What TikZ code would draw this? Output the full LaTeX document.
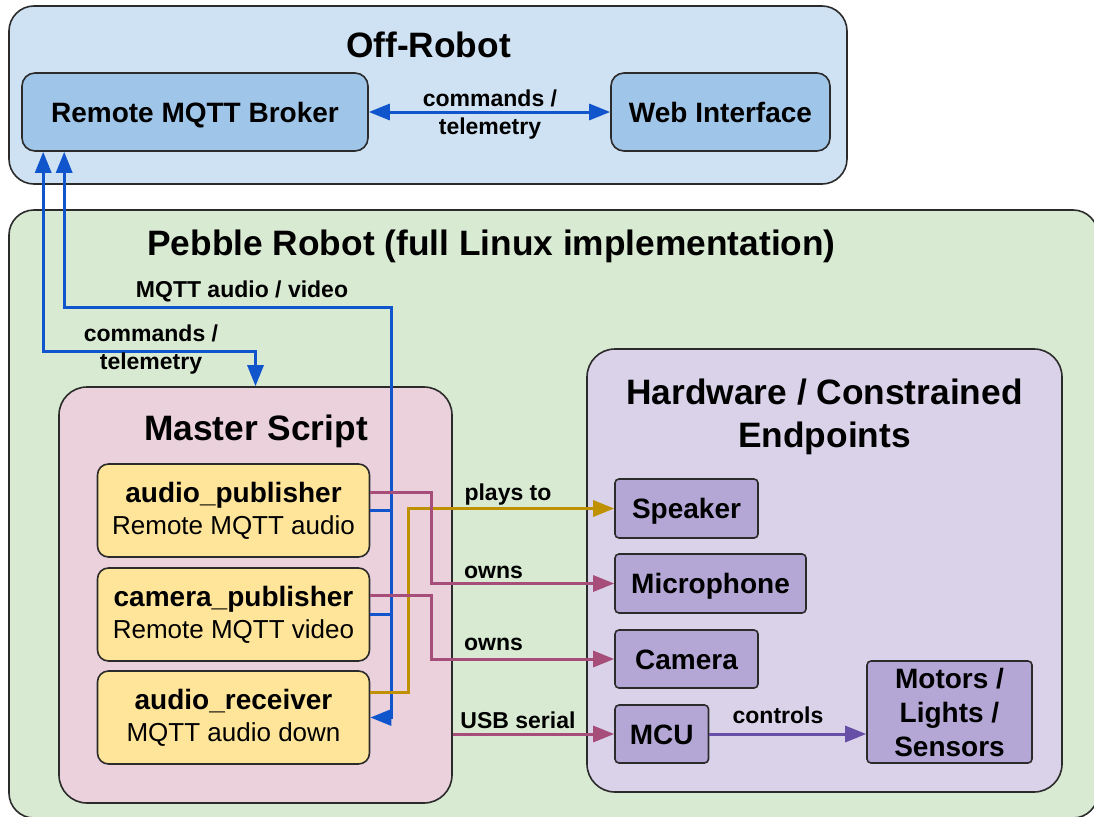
\documentclass[tikz,border=0pt]{standalone}
\usepackage{fontspec}
\setmainfont{Liberation Sans}
\usetikzlibrary{arrows.meta,calc}

\definecolor{offfill}{HTML}{CFE2F3}
\definecolor{offbox}{HTML}{9FC5E8}
\definecolor{robotfill}{HTML}{D9EAD3}
\definecolor{masterfill}{HTML}{EAD1DC}
\definecolor{taskfill}{HTML}{FFE599}
\definecolor{hwfill}{HTML}{D9D2E9}
\definecolor{hwbox}{HTML}{B4A7D6}
\definecolor{edge}{HTML}{2B2B2B}
\definecolor{mqttblue}{HTML}{1155CC}
\definecolor{audiogold}{HTML}{BF9000}
\definecolor{ownmag}{HTML}{A64D79}
\definecolor{ctlpurple}{HTML}{674EA7}

\tikzset{
  titlefont/.style={font=\fontsize{35.3}{43}\selectfont\bfseries},
  labelfont/.style={font=\fontsize{23}{28}\selectfont\bfseries},
  group/.style={draw=edge, line width=1.6pt, rounded corners=25pt},
  boxbase/.style={draw=edge, line width=1.6pt, inner sep=0pt, align=center},
  oneline/.style={text height=20pt, text depth=0pt},
  offnode/.style={boxbase, oneline, fill=offbox, rounded corners=13pt,
    minimum height=78pt, font=\fontsize{28}{34}\selectfont\bfseries},
  tasknode/.style={boxbase, fill=taskfill, rounded corners=11pt,
    minimum width=272pt, minimum height=93pt, font=\fontsize{26}{32}\selectfont},
  hwnode/.style={boxbase, fill=hwbox, rounded corners=4pt,
    font=\fontsize{28}{34}\selectfont\bfseries},
  conn/.style={line width=3pt, arrows={-}},
  tip/.tip={Triangle[length=21pt,width=16pt]},
}

\begin{document}
\begin{tikzpicture}[x=1pt,y=-1pt]
\clip (0,0) rectangle (1094,816);
\fill[white] (0,0) rectangle (1094,816);

% containers
\draw[group, fill=offfill] (9,6) rectangle (847,184);
\node[titlefont, anchor=base] (offtitle) at (428.5,58) {Off-Robot};

\draw[group, fill=robotfill] (9,210) rectangle (1098,818);
\node[titlefont, anchor=base] (robottitle) at (491.5,255) {Pebble Robot (full Linux implementation)};

\node[group, fill=masterfill, minimum width=393pt, minimum height=416pt, inner sep=0pt,
      rounded corners=28pt] (master) at (255.5,595) {};
\node[titlefont, anchor=base] (mastertitle) at (256,440) {Master Script};

\node[group, fill=hwfill, minimum width=475pt, minimum height=443pt, inner sep=0pt,
      rounded corners=28pt] (hw) at (824.5,570.5) {};
\node[titlefont, align=center] (hwtitle) at (824.5,417) {Hardware / Constrained\\Endpoints};

% off-robot services
\node[offnode, minimum width=346pt] (broker) at (195,112) {Remote MQTT Broker};
\node[offnode, minimum width=219pt] (web) at (720.5,112) {Web Interface};

% master script tasks
\node[tasknode] (ap) at (233.5,510.5)
  {{\fontsize{28}{32}\selectfont\bfseries audio\_publisher}\\Remote MQTT audio};
\node[tasknode] (cp) at (233.5,614.5)
  {{\fontsize{28}{32}\selectfont\bfseries camera\_publisher}\\Remote MQTT video};
\node[tasknode] (ar) at (233.5,717.5)
  {{\fontsize{28}{32}\selectfont\bfseries audio\_receiver}\\MQTT audio down};

% hardware endpoints
\node[hwnode, oneline, minimum width=143pt, minimum height=59pt] (spk) at (686.5,508.5) {Speaker};
\node[hwnode, oneline, minimum width=191pt, minimum height=59pt] (mic) at (710.5,583.5) {Microphone};
\node[hwnode, oneline, minimum width=143pt, minimum height=58pt] (cam) at (686.5,659) {Camera};
\node[hwnode, oneline, minimum width=93.5pt, minimum height=58pt] (mcu) at (661.75,734) {MCU};
\node[hwnode, minimum width=165pt, minimum height=102pt] (mot) at (949.5,712)
  {Motors /\\Lights /\\Sensors};

% broker <-> web interface
\draw[conn, mqttblue, tip-tip] (broker.east) -- (web.west);
\node[labelfont, align=center] (cmdtop) at (490,115) {commands /\\telemetry};

% commands / telemetry between broker and master script
\draw[conn, mqttblue, tip-tip] ([xshift=22pt]broker.south west) -- ++(0,200) -| (master.north);
\node[labelfont, align=center] (cmdlow) at (151,350) {commands /\\telemetry};

% MQTT audio / video bus
\coordinate (avbus) at ([xshift=21.5pt]ar.east);
\draw[conn, mqttblue, tip-tip] ([xshift=43pt]broker.south west) -- ++(0,156) -| (avbus) -- (ar.east);
\draw[conn, mqttblue] (ap.east) -- (ap.east -| avbus);
\draw[conn, mqttblue] (cp.east) -- (cp.east -| avbus);
\node[labelfont, anchor=base] (avlabel) at (242,297) {MQTT audio / video};

% audio receiver plays to speaker
\draw[conn, audiogold, -tip] ([yshift=25pt]ar.east) -- ++(38,0) |- (spk.west);
\node[labelfont, anchor=base] (playslabel) at (508,500) {plays to};

% ownership of microphone and camera
\draw[conn, ownmag, -tip] ([yshift=18.5pt]ap.east) -- ++(61,0) |- (mic.west);
\node[labelfont, anchor=base] (ownsmic) at (493.5,578) {owns};
\draw[conn, ownmag, -tip] ([yshift=19.5pt]cp.east) -- ++(61.5,0) |- (cam.west);
\node[labelfont, anchor=base] (ownscam) at (493.5,650.5) {owns};

% serial link to the MCU
\draw[conn, ownmag, -tip] (master.east |- mcu.west) -- (mcu.west);
\node[labelfont, anchor=base] (usblabel) at (518,728) {USB serial};

% MCU controls actuators and sensors
\draw[conn, ctlpurple, -tip] (mcu.east) -- (mcu.east -| mot.west);
\node[labelfont, anchor=base] (ctllabel) at (778,723) {controls};
\end{tikzpicture}
\end{document}
